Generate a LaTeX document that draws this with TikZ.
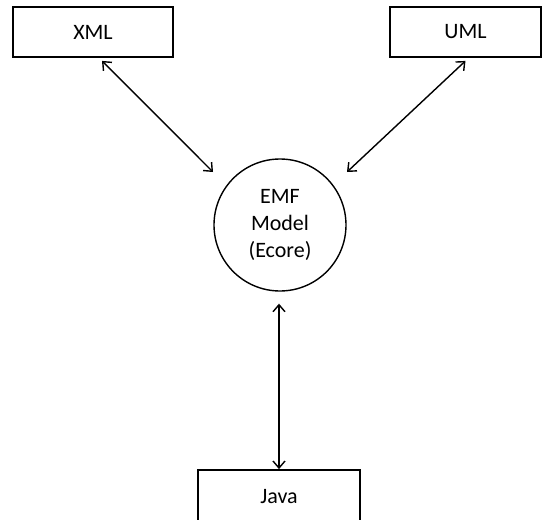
\documentclass[tikz,border=0pt]{standalone}
\usepackage{fontspec}
\setmainfont{Carlito}
\usetikzlibrary{arrows.meta,calc}
\tikzset{
blockbox/.style={
  rectangle, draw=black, line width=1.8pt,
  minimum height=50pt, inner sep=0pt,
  align=center, font=\fontsize{22pt}{26.7pt}\selectfont
  },
modelnode/.style={
  circle, draw=black, line width=1.4pt,
  minimum size=132pt, inner sep=0pt,
  align=center, font=\fontsize{22pt}{26.7pt}\selectfont
  },
link/.style={
  {Straight Barb[length=7pt,width=12pt]}-{Straight Barb[length=7pt,width=12pt]},
  line width=1.4pt
  }
}

\begin{document}
\begin{tikzpicture}[x=1pt,y=-1pt]
\useasboundingbox (0,0) rectangle (542,520);

\node[blockbox,minimum width=160pt] (xml) at (93,32) {XML};
\node[blockbox,minimum width=151pt] (uml) at (465.5,32) {UML};
\node[modelnode] (emf) at (280,225) {EMF\\Model\\(Ecore)};
\node[blockbox,minimum width=162pt,minimum height=53pt] (java) at (279,496.5) {Java};

\draw[link]
  ($(xml.south)+(9,3)$) -- ($(emf.center)+(-67,-53)$);
\draw[link]
  ($(uml.south)+(0,3)$) -- ($(emf.center)+(67,-53)$);
\draw[link]
  ($(emf.south)+(-1,12)$) -- (java.north);

\end{tikzpicture}
\end{document}
